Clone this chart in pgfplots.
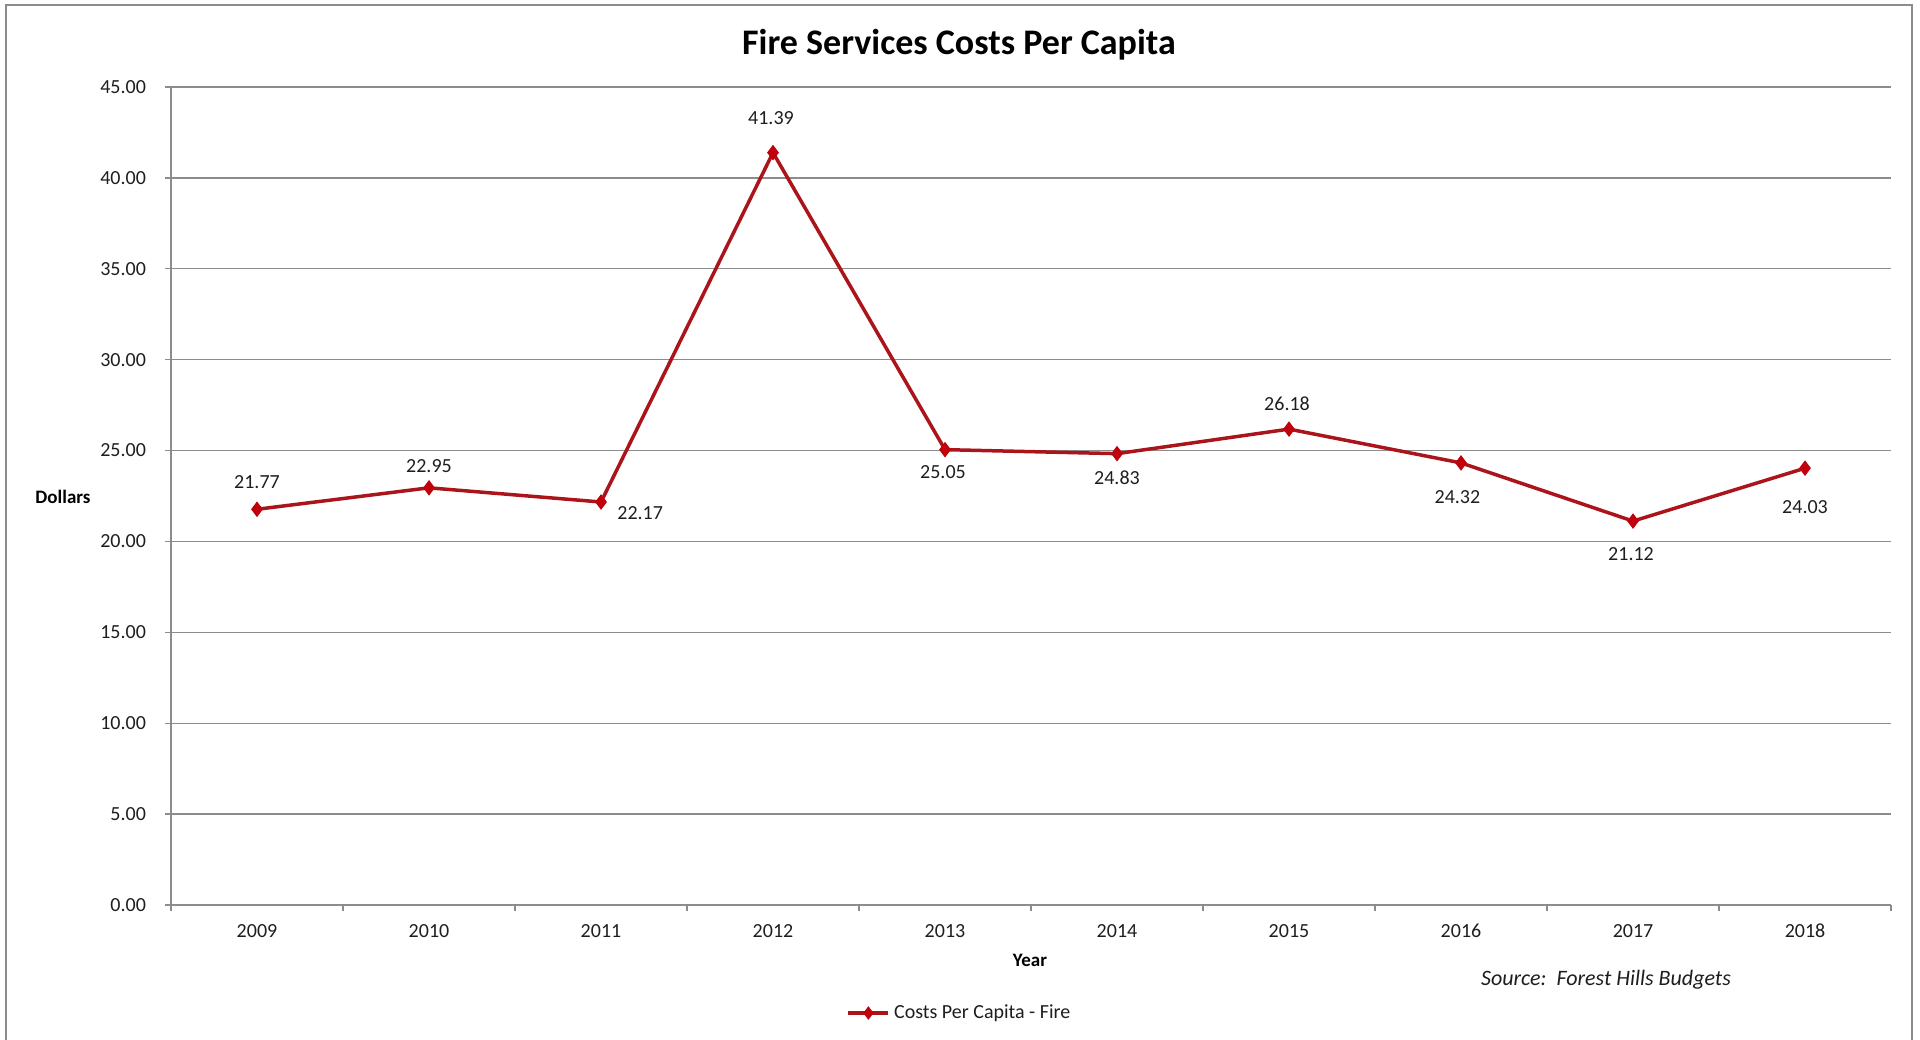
\documentclass[border=0pt]{standalone}
\usepackage{pgfplots}
\pgfplotsset{compat=1.18}
\usepackage{fontspec}
\setmainfont{Carlito}
\definecolor{fireline}{RGB}{172,20,28}
\definecolor{firemark}{RGB}{192,0,10}
\definecolor{gridgray}{RGB}{140,140,140}
\definecolor{txt}{RGB}{30,30,30}
\begin{document}
\begin{tikzpicture}[x=1pt,y=1pt]
\path[use as bounding box] (0,0) rectangle (960,519.5);
\draw[gridgray,line width=0.7pt] (3,-5) -- (3,517) -- (956,517) -- (956,-5);
\begin{axis}[
  at={(85.5pt,67pt)}, anchor=south west,
  scale only axis, width=860pt, height=409pt,
  xmin=-0.5, xmax=9.5, ymin=0, ymax=45,
  axis lines*=left,
  axis line style={gridgray, line width=0.7pt},
  xtick={0,...,9},
  xticklabels={2009,2010,2011,2012,2013,2014,2015,2016,2017,2018},
  major x tick style={draw=none},
  minor xtick={-0.5,0.5,...,9.5},
  minor x tick style={gridgray, line width=0.7pt},
  minor tick length=3pt,
  ytick={0,5,...,45},
  ymajorgrids,
  grid style={gridgray, line width=0.7pt},
  major y tick style={gridgray, line width=0.7pt},
  major tick length=3pt,
  tick align=outside,
  tick label style={font=\fontsize{10}{12}\selectfont, text=txt},
  yticklabel style={/pgf/number format/fixed, /pgf/number format/fixed zerofill, /pgf/number format/precision=2, xshift=-6pt},
  xticklabel style={yshift=-3pt},
  /pgf/number format/assume math mode=true,
  clip=false,
  legend style={at={(0.459,-0.132)}, anchor=center, draw=none, fill=none,
    font=\fontsize{10}{12}\selectfont, text=txt, legend cell align=left,
    /tikz/every even column/.append style={column sep=2pt}},
  legend image code/.code={
    \draw[fireline, line width=1.75pt] (0pt,0pt) -- (20pt,0pt);
    \draw[firemark, fill=firemark] plot[mark=diamond*, mark size=3pt] coordinates {(10pt,0pt)};
  },
  lbl/.style 2 args={forget plot, draw=none, mark=none, nodes near coords, point meta=y,
    nodes near coords style={font=\fontsize{10}{12}\selectfont, text=txt,
    /pgf/number format/fixed, /pgf/number format/fixed zerofill, /pgf/number format/precision=2,
    anchor=center, inner sep=0pt, xshift=#1, yshift=#2}},
]
\addplot[fireline, line width=1.75pt, mark=diamond*, mark size=3.5pt,
  mark options={fill=firemark, draw=firemark, line width=0.5pt}]
  coordinates {(0,21.77) (1,22.95) (2,22.17) (3,41.39) (4,25.05) (5,24.83) (6,26.18) (7,24.32) (8,21.12) (9,24.03)};
\addlegendentry{Costs Per Capita - Fire}
% data labels
\addplot[lbl={0pt}{13.5pt}] coordinates {(0,21.77)};
\addplot[lbl={0pt}{10.8pt}] coordinates {(1,22.95)};
\addplot[lbl={19.6pt}{-5.5pt}] coordinates {(2,22.17)};
\addplot[lbl={-1pt}{17.1pt}] coordinates {(3,41.39)};
\addplot[lbl={-1pt}{-11pt}] coordinates {(4,25.05)};
\addplot[lbl={0pt}{-12.2pt}] coordinates {(5,24.83)};
\addplot[lbl={-1pt}{12.9pt}] coordinates {(6,26.18)};
\addplot[lbl={-1.8pt}{-17.1pt}] coordinates {(7,24.32)};
\addplot[lbl={-1pt}{-16.5pt}] coordinates {(8,21.12)};
\addplot[lbl={0pt}{-19.6pt}] coordinates {(9,24.03)};
\end{axis}
\node[font=\bfseries\fontsize{18}{21}\selectfont, text=black] at (479.5,497) {Fire Services Costs Per Capita};
\node[font=\bfseries\fontsize{9.5}{11}\selectfont, text=black] at (31.5,271) {Dollars};
\node[font=\bfseries\fontsize{9.5}{11}\selectfont, text=black] at (515,39.5) {Year};
\node[font=\itshape\fontsize{11}{13}\selectfont, text=txt] at (803,29.5) {Source:\ \ Forest Hills Budgets};
\end{tikzpicture}
\end{document}
